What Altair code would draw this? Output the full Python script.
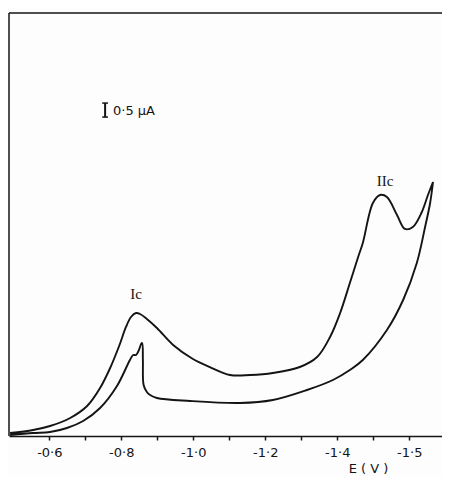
import altair as alt
import pandas as pd

# Forward scan (lower branch, with the sharp spike near -0.86 V)
fwd_E = [-0.491, -0.555, -0.602, -0.649, -0.694, -0.741, -0.788, -0.824, -0.833, -0.841,
         -0.849, -0.855, -0.858, -0.860, -0.862, -0.871, -0.880, -0.899, -0.991, -1.130,
         -1.221, -1.316, -1.388, -1.435, -1.471, -1.538, -1.583, -1.621, -1.644, -1.658,
         -1.666]
fwd_I = [0.036, 0.107, 0.143, 0.286, 0.536, 1.0, 1.786, 2.714, 2.893, 2.893,
         3.071, 3.286, 3.321, 2.714, 1.821, 1.571, 1.464, 1.357, 1.25, 1.179,
         1.286, 1.643, 2.0, 2.357, 2.714, 3.786, 4.857, 6.179, 7.464, 8.321,
         9.071]

# Return scan (upper branch with peaks Ic and IIc)
rev_E = [-1.666, -1.652, -1.635, -1.610, -1.588, -1.566, -1.538, -1.519, -1.499, -1.471,
         -1.458, -1.435, -1.408, -1.380, -1.344, -1.296, -1.221, -1.158, -1.102, -1.046,
         -0.999, -0.944, -0.899, -0.871, -0.852, -0.841, -0.827, -0.813, -0.794, -0.769,
         -0.741, -0.705, -0.658, -0.602, -0.555, -0.491]
rev_I = [9.071, 8.607, 8.0, 7.464, 7.393, 7.893, 8.536, 8.607, 8.321, 6.893,
         6.393, 5.464, 4.393, 3.536, 2.821, 2.464, 2.25, 2.179, 2.179, 2.464,
         2.75, 3.25, 3.857, 4.179, 4.357, 4.393, 4.25, 3.893, 3.214, 2.429,
         1.714, 1.071, 0.643, 0.357, 0.214, 0.107]

tick_values = [-0.6, -0.7, -0.8, -0.9, -1.0, -1.1, -1.2, -1.3, -1.4, -1.5, -1.6]
label_values = [-0.6, -0.8, -1.0, -1.2, -1.4, -1.6]
label_texts = ["-0·6", "-0·8", "-1·0", "-1·2", "-1·4", "-1·5"]

peak_labels = ["Ic", "IIc"]
peak_E = [-0.841, -1.533]
peak_I = [5.07, 9.107]

scale_E = -0.755
scale_I_low = 11.39
scale_I_high = 11.89
scale_text = "0·5 μA"

E_domain = [-1.691, -0.488]
I_domain = [0, 15.107]

rows = []
k = 0
for e, i in zip(fwd_E, fwd_I):
    rows.append({"E": e, "I": i, "order": k}); k += 1
for e, i in zip(rev_E, rev_I):
    rows.append({"E": e, "I": i, "order": k}); k += 1
df = pd.DataFrame(rows)

expr = "''"
for v, t in reversed(list(zip(label_values, label_texts))):
    expr = f"abs(datum.value - ({v})) < 0.01 ? '{t}' : " + expr

xscale = alt.Scale(domain=E_domain, reverse=True, nice=False, zero=False)
yscale = alt.Scale(domain=I_domain, nice=False, zero=False)

W, H = 433, 423
INK = "#141414"

curve = alt.Chart(df).mark_line(
    interpolate="catmull-rom", color=INK, strokeWidth=1.9, clip=True
).encode(
    x=alt.X("E:Q", scale=xscale, axis=alt.Axis(
        values=tick_values, labelExpr=expr, grid=False,
        domainColor=INK, domainWidth=1.6, tickColor=INK, tickWidth=1.5, tickSize=4,
        labelFont="DejaVu Sans", labelFontSize=13, labelColor=INK, labelPadding=6,
        title="E  ( V )", titleFont="DejaVu Sans", titleFontSize=13,
        titleFontWeight="normal", titleColor=INK,
        titleX=359, titleY=36, titleAlign="center", titleBaseline="alphabetic",
        labelFlush=False, labelOverlap=False)),
    y=alt.Y("I:Q", scale=yscale, axis=None),
    order="order:Q",
)

peaks = alt.Chart(pd.DataFrame({"label": peak_labels, "E": peak_E, "I": peak_I})).mark_text(
    font="Liberation Serif", fontSize=15, color=INK, baseline="middle", align="center"
).encode(x=alt.X("E:Q", scale=xscale), y=alt.Y("I:Q", scale=yscale), text="label:N")

bar_df = pd.DataFrame({"E": [scale_E], "I": [scale_I_low], "I2": [scale_I_high]})
bar = alt.Chart(bar_df).mark_rule(color=INK, strokeWidth=2).encode(
    x=alt.X("E:Q", scale=xscale), y=alt.Y("I:Q", scale=yscale), y2="I2:Q")
caps_df = pd.DataFrame({"E": [scale_E + 0.008, scale_E + 0.008],
                        "E2": [scale_E - 0.008, scale_E - 0.008],
                        "I": [scale_I_low, scale_I_high]})
caps = alt.Chart(caps_df).mark_rule(color=INK, strokeWidth=1.5).encode(
    x=alt.X("E:Q", scale=xscale), x2="E2:Q", y=alt.Y("I:Q", scale=yscale))
bar_text = alt.Chart(pd.DataFrame({"t": [scale_text], "E": [-0.777], "I": [11.61]})).mark_text(
    font="DejaVu Sans", fontSize=13, color=INK, align="left", baseline="middle"
).encode(x=alt.X("E:Q", scale=xscale), y=alt.Y("I:Q", scale=yscale), text="t:N")

left_line = alt.Chart(pd.DataFrame({"a": [0]})).mark_rule(color=INK, strokeWidth=1.5).encode(
    x=alt.value(0), y=alt.value(0), y2=alt.value(H))
top_line = alt.Chart(pd.DataFrame({"a": [0]})).mark_rule(color=INK, strokeWidth=1.5).encode(
    x=alt.value(0), x2=alt.value(W), y=alt.value(0))

chart = alt.layer(left_line, top_line, curve, peaks, bar, caps, bar_text).properties(
    width=W, height=H,
    autosize=alt.AutoSizeParams(type="none"),
    padding={"left": 1, "top": 5, "right": 0, "bottom": 40},
    background="#fdfdfd",
).configure_view(stroke=None)

chart.save("out.html", embed_options={"renderer": "svg", "actions": False})
